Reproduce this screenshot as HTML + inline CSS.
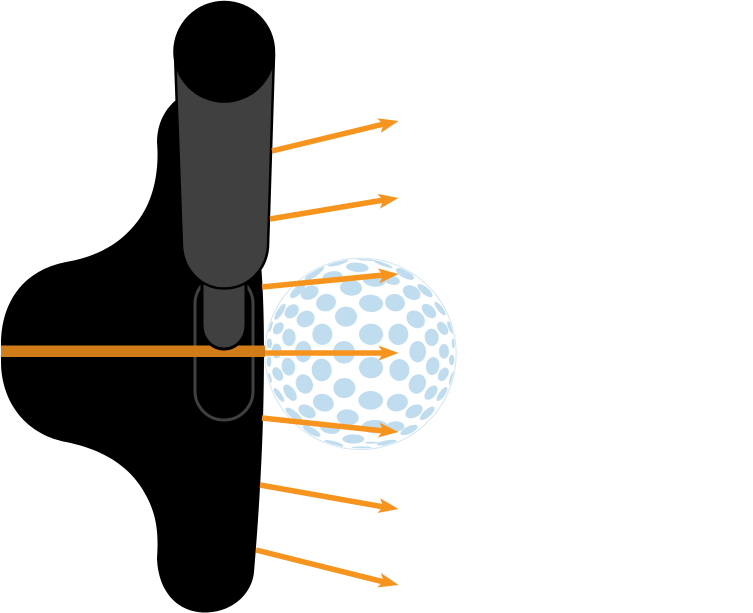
<!DOCTYPE html>
<html><head><meta charset="utf-8"><style>html,body{margin:0;padding:0;background:#fff}svg{display:block}</style></head>
<body>
<svg width="753" height="613" viewBox="0 0 753 613" xmlns="http://www.w3.org/2000/svg">
<defs>
<clipPath id="b"><circle cx="360.500" cy="353.800" r="94.800"/></clipPath>
<g id="h"><path d="M0 0L-20 7.500L-15.500 0L-20 -7.500Z" fill="#f7941e"/></g>
</defs>
<circle cx="360.500" cy="353.800" r="95.700" fill="none" stroke="#d3e6f3" stroke-width="1"/>
<g clip-path="url(#b)"><g transform="translate(255 250) scale(.33333)" fill="#c0dcef">
<ellipse cx="330" cy="28" rx="32" ry="4" transform="rotate(5 330 28)"/>
<ellipse cx="248" cy="38" rx="32" ry="8" transform="rotate(-15 248 38)"/>
<ellipse cx="307" cy="52" rx="34" ry="14" transform="rotate(5 307 52)"/>
<ellipse cx="385" cy="43" rx="30" ry="5" transform="rotate(20 385 43)"/>
<ellipse cx="178" cy="70" rx="35" ry="10" transform="rotate(-35 178 70)"/>
<ellipse cx="232" cy="80" rx="30" ry="16" transform="rotate(-10 232 80)"/>
<ellipse cx="450" cy="72" rx="30" ry="12" transform="rotate(28 450 72)"/>
<ellipse cx="358" cy="90" rx="35" ry="20" transform="rotate(5 358 90)"/>
<ellipse cx="410" cy="90" rx="25" ry="14" transform="rotate(15 410 90)"/>
<ellipse cx="128" cy="122" rx="30" ry="12" transform="rotate(-45 128 122)"/>
<ellipse cx="288" cy="113" rx="33" ry="24" transform="rotate(5 288 113)"/>
<ellipse cx="164" cy="128" rx="28" ry="20" transform="rotate(-25 164 128)"/>
<ellipse cx="470" cy="128" rx="28" ry="20" transform="rotate(30 470 128)"/>
<ellipse cx="510" cy="122" rx="28" ry="11" transform="rotate(40 510 122)"/>
<ellipse cx="213" cy="158" rx="30" ry="26" transform="rotate(-15 213 158)"/>
<ellipse cx="348" cy="160" rx="36" ry="26" transform="rotate(5 348 160)"/>
<ellipse cx="420" cy="158" rx="30" ry="26" transform="rotate(15 420 158)"/>
<ellipse cx="110" cy="184" rx="24" ry="18" transform="rotate(-45 110 184)"/>
<ellipse cx="152" cy="207" rx="28" ry="24" transform="rotate(-30 152 207)"/>
<ellipse cx="273" cy="200" rx="33" ry="30"/>
<ellipse cx="482" cy="208" rx="30" ry="24" transform="rotate(40 482 208)"/>
<ellipse cx="522" cy="183" rx="26" ry="16" transform="rotate(45 522 183)"/>
<ellipse cx="555" cy="176" rx="25" ry="8" transform="rotate(52 555 176)"/>
<ellipse cx="75" cy="185" rx="28" ry="9" transform="rotate(-58 75 185)"/>
<ellipse cx="70" cy="235" rx="20" ry="14" transform="rotate(-55 70 235)"/>
<ellipse cx="45" cy="231" rx="18" ry="6" transform="rotate(-70 45 231)"/>
<ellipse cx="202" cy="253" rx="30" ry="32"/>
<ellipse cx="348" cy="253" rx="36" ry="32"/>
<ellipse cx="430" cy="253" rx="30" ry="32" transform="rotate(5 430 253)"/>
<ellipse cx="102" cy="262" rx="20" ry="26"/>
<ellipse cx="563" cy="235" rx="22" ry="14" transform="rotate(55 563 235)"/>
<ellipse cx="530" cy="262" rx="21" ry="26" transform="rotate(-5 530 262)"/>
<ellipse cx="586" cy="232" rx="20" ry="6" transform="rotate(68 586 232)"/>
<ellipse cx="43" cy="280" rx="8" ry="15"/>
<ellipse cx="65" cy="303" rx="15" ry="22"/>
<ellipse cx="145" cy="305" rx="25" ry="32"/>
<ellipse cx="267" cy="307" rx="33" ry="34"/>
<ellipse cx="488" cy="305" rx="25" ry="32"/>
<ellipse cx="567" cy="304" rx="15" ry="22"/>
<ellipse cx="590" cy="330" rx="8" ry="16"/>
<ellipse cx="595" cy="280" rx="5" ry="15"/>
<ellipse cx="42" cy="335" rx="7" ry="16"/>
<ellipse cx="100" cy="350" rx="20" ry="27" transform="rotate(-10 100 350)"/>
<ellipse cx="200" cy="360" rx="30" ry="34" transform="rotate(-5 200 360)"/>
<ellipse cx="348" cy="353" rx="36" ry="32"/>
<ellipse cx="433" cy="360" rx="30" ry="33"/>
<ellipse cx="533" cy="348" rx="20" ry="27" transform="rotate(10 533 348)"/>
<ellipse cx="565" cy="373" rx="14" ry="22" transform="rotate(30 565 373)"/>
<ellipse cx="591" cy="384" rx="22" ry="6" transform="rotate(-72 591 384)"/>
<ellipse cx="68" cy="372" rx="14" ry="22" transform="rotate(-30 68 372)"/>
<ellipse cx="44" cy="384" rx="16" ry="5" transform="rotate(75 44 384)"/>
<ellipse cx="148" cy="402" rx="25" ry="30" transform="rotate(-25 148 402)"/>
<ellipse cx="268" cy="414" rx="33" ry="30"/>
<ellipse cx="487" cy="402" rx="25" ry="30" transform="rotate(25 487 402)"/>
<ellipse cx="105" cy="428" rx="15" ry="28" transform="rotate(-35 105 428)"/>
<ellipse cx="528" cy="428" rx="15" ry="25" transform="rotate(40 528 428)"/>
<ellipse cx="561" cy="432" rx="25" ry="9" transform="rotate(-55 561 432)"/>
<ellipse cx="205" cy="458" rx="32" ry="26" transform="rotate(20 205 458)"/>
<ellipse cx="347" cy="451" rx="37" ry="28"/>
<ellipse cx="427" cy="458" rx="32" ry="26" transform="rotate(-15 427 458)"/>
<ellipse cx="156" cy="484" rx="28" ry="18" transform="rotate(30 156 484)"/>
<ellipse cx="477" cy="484" rx="28" ry="18" transform="rotate(-30 477 484)"/>
<ellipse cx="517" cy="490" rx="28" ry="11" transform="rotate(-42 517 490)"/>
<ellipse cx="278" cy="502" rx="33" ry="24" transform="rotate(5 278 502)"/>
<ellipse cx="225" cy="535" rx="30" ry="16" transform="rotate(10 225 535)"/>
<ellipse cx="360" cy="530" rx="40" ry="20"/>
<ellipse cx="420" cy="530" rx="28" ry="16" transform="rotate(-5 420 530)"/>
<ellipse cx="462" cy="540" rx="28" ry="11" transform="rotate(-25 462 540)"/>
<ellipse cx="170" cy="543" rx="30" ry="10" transform="rotate(30 170 543)"/>
<ellipse cx="295" cy="567" rx="33" ry="14"/>
<ellipse cx="395" cy="578" rx="30" ry="7" transform="rotate(-10 395 578)"/>
<ellipse cx="237" cy="580" rx="30" ry="6" transform="rotate(15 237 580)"/>
<ellipse cx="350" cy="578" rx="20" ry="3"/>
<ellipse cx="320" cy="592" rx="30" ry="3"/>
<ellipse cx="117" cy="495" rx="32" ry="11" transform="rotate(40 117 495)"/>
<ellipse cx="72" cy="435" rx="25" ry="8" transform="rotate(55 72 435)"/>
</g></g>
<path d="M176 100C164 110 157 125 157 142C159 165 156 195 140 218C123 242 100 256 66 262C25 270 1 300 1 345V362C1 400 24 434 66 442C100 449 125 463 141 487C156 510 159 530 157 558C158 592 178 612.500 205 612.500C232 612.500 252 594 254 572C260 500 264 430 264 350C264 300 262 270 258 230L250 90Z" fill="#000"/>
<rect x="195" y="275" width="58" height="145" rx="29" fill="none" stroke="#404040" stroke-width="3"/>
<path d="M1 345.500H265V357H1Z" fill="#d07c18"/>
<path d="M202 270V325C202 339 212 349 224 349C236 349 246 339 246 325V270Z" fill="#404040" stroke="#000" stroke-width="3"/>
<path d="M175 55L182 247C184 272 203 288.500 224 288.500C246 288.500 266 272 268 247L274 55Z" fill="#404040" stroke="#000" stroke-width="2.500"/>
<circle cx="224.200" cy="51.800" r="51" fill="#000"/>
<g stroke="#f7941e" stroke-width="5.500" fill="none">
<path d="M272 151L384 124"/><path d="M270 219L384 200"/><path d="M262 287L384 275"/><path d="M265 353H384"/><path d="M262 418L384 431"/><path d="M260 485L384 507"/><path d="M256 550L384 582"/>
</g>
<use href="#h" transform="translate(398.500 121) rotate(-13.400)"/>
<use href="#h" transform="translate(398.500 198) rotate(-9.300)"/>
<use href="#h" transform="translate(398.500 274) rotate(-5.500)"/>
<use href="#h" transform="translate(398.500 353)"/>
<use href="#h" transform="translate(398.500 432) rotate(5.800)"/>
<use href="#h" transform="translate(398.500 509) rotate(9.700)"/>
<use href="#h" transform="translate(398.500 585) rotate(13.900)"/>
</svg>
</body></html>
